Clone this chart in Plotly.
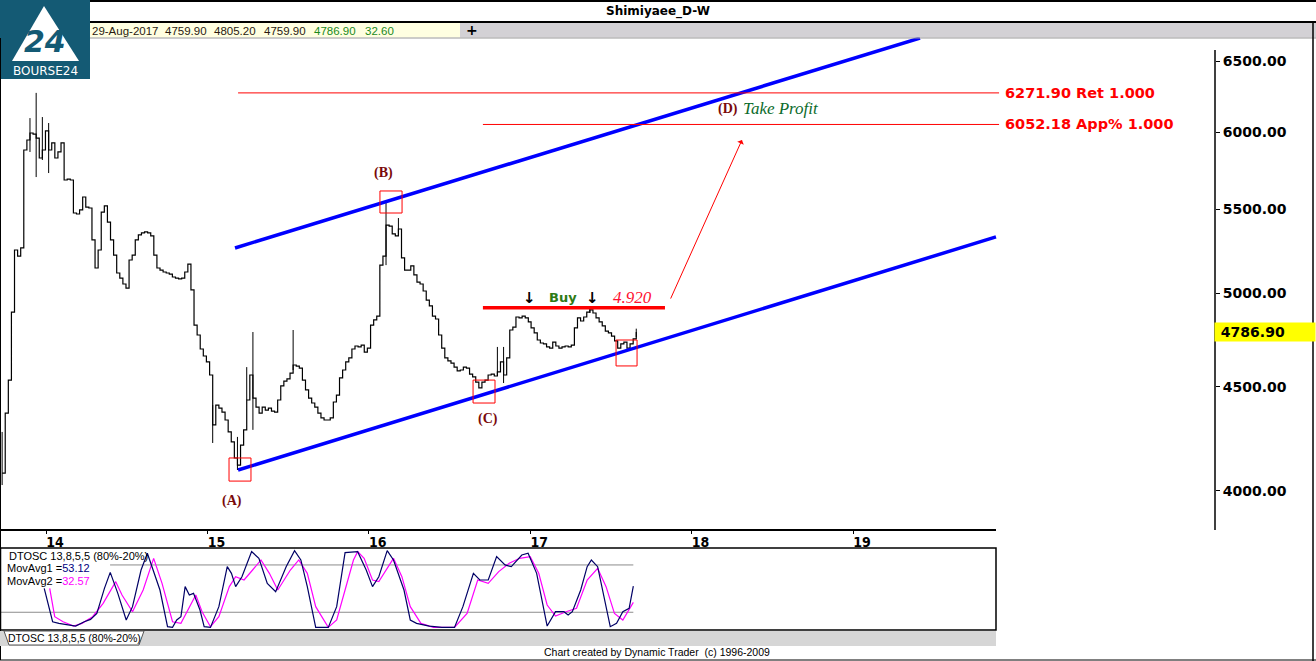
import numpy as np
import pandas as pd
import plotly.graph_objects as go

W, H = 1316, 661

# ---------------- data ----------------
close = [4082, 4368, 4534, 4896, 5252, 5216, 5265, 5880, 5947, 5994,
         5987, 5960, 5827, 5880, 6008, 5880, 5927, 5827, 5867, 5927,
         5684, 5690, 5684, 5476, 5470, 5495, 5576, 5513, 5507, 5312,
         5146, 5252, 5482, 5520, 5420, 5312, 5222, 5117, 5088, 5054,
         5031, 5193, 5222, 5312, 5342, 5354, 5360, 5354, 5336, 5222,
         5146, 5134, 5123, 5117, 5111, 5094, 5088, 5083, 5088, 5123,
         5169, 5020, 4825, 4771, 4696, 4659, 4628, 4560, 4310, 4408,
         4393, 4373, 4334, 4276, 4228, 4152, 4119, 4213, 4286, 4433,
         4560, 4443, 4398, 4368, 4398, 4383, 4393, 4378, 4373, 4433,
         4504, 4529, 4540, 4570, 4612, 4606, 4596, 4534, 4484, 4443,
         4418, 4398, 4368, 4344, 4334, 4334, 4344, 4423, 4458, 4545,
         4586, 4628, 4649, 4696, 4712, 4707, 4717, 4680, 4701, 4825,
         4853, 4874, 5163, 5216, 5402, 5396, 5348, 5336, 5378, 5205,
         5134, 5134, 5158, 5106, 5065, 5054, 5014, 4963, 4930, 4874,
         4858, 4771, 4701, 4649, 4633, 4622, 4601, 4581, 4586, 4601,
         4596, 4565, 4550, 4524, 4494, 4524, 4534, 4560, 4565, 4555,
         4576, 4628, 4560, 4649, 4798, 4814, 4869, 4864, 4874, 4864,
         4842, 4809, 4782, 4744, 4728, 4723, 4707, 4701, 4733, 4712,
         4701, 4707, 4712, 4707, 4717, 4809, 4864, 4847, 4869, 4896,
         4908, 4891, 4864, 4842, 4820, 4792, 4782, 4765, 4739, 4701,
         4723, 4733, 4701, 4723, 4750, 4786.9]
last_date = "2017-08-29"
info_values = ["29-Aug-2017", "4759.90", "4805.20", "4759.90", "4786.90", "32.60"]

spike_idx = [0, 9, 11, 13, 15, 68, 76, 79, 81, 94, 124, 128, 160, 162, 190, 205]
spike_lo = [4027, 5867, 5703, 5814, 5729, 4223, 4096, 4433, 4286, 4586, 5163, 5336, 4560, 4519, 4891, 4759.9]
spike_hi = [4276, 6096, 6272, 6103, 6062, 4408, 4252, 4601, 4787, 4798, 5538, 5445, 4707, 4707, 4920, 4805.2]

fast_t = [13.989, 14.041, 14.080, 14.132, 14.184, 14.237, 14.276, 14.315, 14.362, 14.398,
          14.445, 14.497, 14.536, 14.589, 14.628, 14.706, 14.753, 14.784, 14.810, 14.836,
          14.862, 14.888, 14.914, 14.954, 14.980, 15.019, 15.071, 15.123, 15.149, 15.175,
          15.214, 15.274, 15.319, 15.371, 15.423, 15.488, 15.540, 15.579, 15.619, 15.671,
          15.749, 15.801, 15.853, 15.931, 15.984, 16.023, 16.062, 16.114, 16.153, 16.218,
          16.257, 16.296, 16.375, 16.453, 16.531, 16.583, 16.648, 16.688, 16.740, 16.792,
          16.844, 16.883, 16.948, 16.987, 17.040, 17.105, 17.157, 17.209, 17.235, 17.261,
          17.313, 17.353, 17.379, 17.418, 17.470, 17.496, 17.535, 17.574, 17.613, 17.639]
fast_v = [50.3, 8.0, 5.9, 3.8, 2.5, 8.0, 11.0, 18.6, 50.3, 70.6,
          44.0, 10.2, 27.1, 73.6, 94.8, 48.2, 1.7, 0.8, 10.2, 14.4,
          52.5, 41.9, 44.0, 22.8, 1.7, 0.8, 27.1, 77.8, 69.4, 52.5,
          65.1, 96.9, 88.4, 56.7, 46.1, 77.8, 98.1, 86.3, 52.5, 0.8,
          0.8, 27.1, 95.6, 96.9, 73.6, 52.5, 65.1, 98.1, 86.3, 48.2,
          10.2, 5.9, 2.5, 0.8, 0.8, 27.1, 69.4, 60.9, 60.9, 90.5,
          80.0, 77.8, 92.6, 94.8, 69.4, 2.5, 20.7, 20.7, 16.5, 20.7,
          48.2, 77.8, 86.3, 77.8, 27.1, 1.7, 5.9, 20.7, 25.0, 53.12]
slow_t = [14.023, 14.054, 14.106, 14.171, 14.223, 14.289, 14.354, 14.432, 14.471, 14.536,
          14.602, 14.667, 14.719, 14.784, 14.836, 14.888, 14.928, 14.967, 15.019, 15.071,
          15.136, 15.175, 15.227, 15.280, 15.332, 15.384, 15.436, 15.514, 15.566, 15.619,
          15.671, 15.749, 15.801, 15.853, 15.905, 15.931, 15.971, 16.023, 16.062, 16.153,
          16.205, 16.257, 16.323, 16.401, 16.531, 16.609, 16.675, 16.740, 16.805, 16.870,
          16.935, 17.000, 17.053, 17.105, 17.157, 17.222, 17.287, 17.353, 17.418, 17.470,
          17.522, 17.574, 17.639]
slow_v = [50.3, 14.4, 8.0, 2.5, 5.9, 14.4, 31.3, 58.8, 41.9, 20.7,
          48.2, 88.4, 56.7, 8.0, 5.9, 27.1, 41.9, 20.7, 1.7, 14.4,
          52.5, 65.1, 60.9, 73.6, 86.3, 69.4, 48.2, 73.6, 86.3, 69.4,
          27.1, 0.8, 10.2, 48.2, 86.3, 96.9, 88.4, 60.9, 58.8, 88.4,
          65.1, 27.1, 5.9, 0.8, 0.8, 18.6, 60.9, 56.7, 71.5, 82.1,
          88.4, 90.5, 69.4, 29.2, 15.2, 20.7, 25.0, 60.9, 75.7, 52.5,
          18.6, 10.2, 32.57]
osc_levels = [80, 20]
osc_level_start = [14.397, 13.715]

year_ticks = [14, 15, 16, 17, 18, 19]
price_ticks = [4000, 4500, 5000, 5500, 6000, 6500]

channel_lower_t = [15.190, 19.886]
channel_lower_p = [4096, 5330]
channel_upper_t = [15.171, 19.415]
channel_upper_p = [5264, 6673]
resist_t = [16.707, 17.835]
resist_p = 4920
ret_level, app_level = 6271.90, 6052.18
ret_t = [15.190, 19.905]
app_t = [16.707, 19.905]
box_t0 = [15.134, 16.069, 16.646, 17.532]
box_t1 = [15.270, 16.206, 16.782, 17.662]
box_lo = [4045, 5476, 4418, 4607]
box_hi = [4152, 5614, 4534, 4744]
wave_labels = ["(A)", "(B)", "(C)"]
wave_t = [15.152, 16.094, 16.739]
wave_p = [3955, 5729, 4339]
target_t, target_p = 18.225, 6159
arrow_from = (17.866, 4963)
arrow_to = (18.312, 5947)
buy_t, buy_p = 17.203, 4975
mark_t = [16.993, 17.383]
level_label_t = 17.631

# ---------------- derived ----------------
dates = pd.date_range(end=last_date, periods=len(close), freq="7D")
t = np.asarray((dates.year - 2000) + (dates.dayofyear - 1) / 365.25, dtype=float)

X0 = 13.715
PX_PER_YEAR = 161.4
X1 = X0 + 1215 / PX_PER_YEAR


def px(x):
    return x / W


def py(y):
    return 1 - y / H


ly = np.log10

fig = go.Figure()

# price step line
fig.add_trace(go.Scatter(x=t, y=close, mode="lines", line=dict(color="black", width=1.2, shape="hv"),
                         xaxis="x", yaxis="y", hoverinfo="skip"))
sx, sy = [], []
for i, lo, hi in zip(spike_idx, spike_lo, spike_hi):
    sx += [t[i], t[i], None]
    sy += [lo, hi, None]
fig.add_trace(go.Scatter(x=sx, y=sy, mode="lines", line=dict(color="black", width=1),
                         xaxis="x", yaxis="y", hoverinfo="skip"))

# channel
for ct, cp in [(channel_lower_t, channel_lower_p), (channel_upper_t, channel_upper_p)]:
    fig.add_trace(go.Scatter(x=ct, y=cp, mode="lines", line=dict(color="#0000ff", width=3.5),
                             xaxis="x", yaxis="y", hoverinfo="skip"))
# resistance
fig.add_trace(go.Scatter(x=resist_t, y=[resist_p, resist_p], mode="lines",
                         line=dict(color="#ff0000", width=3.5), xaxis="x", yaxis="y", hoverinfo="skip"))
# target levels
for lt, lv in [(ret_t, ret_level), (app_t, app_level)]:
    fig.add_trace(go.Scatter(x=lt, y=[lv, lv], mode="lines", line=dict(color="#ff0000", width=1),
                             xaxis="x", yaxis="y", hoverinfo="skip"))
# boxes
bx, by = [], []
for a, b, lo, hi in zip(box_t0, box_t1, box_lo, box_hi):
    bx += [a, b, b, a, a, None]
    by += [lo, lo, hi, hi, lo, None]
fig.add_trace(go.Scatter(x=bx, y=by, mode="lines", line=dict(color="#ff0000", width=1),
                         xaxis="x", yaxis="y", hoverinfo="skip"))

# oscillator
for lvl, st in zip(osc_levels, osc_level_start):
    fig.add_trace(go.Scatter(x=[st, fast_t[-1]], y=[lvl, lvl], mode="lines",
                             line=dict(color="#8c8c8c", width=1), xaxis="x2", yaxis="y2", hoverinfo="skip"))
fig.add_trace(go.Scatter(x=slow_t, y=slow_v, mode="lines", line=dict(color="#ff00ff", width=1.2),
                         xaxis="x2", yaxis="y2", hoverinfo="skip"))
fig.add_trace(go.Scatter(x=fast_t, y=fast_v, mode="lines", line=dict(color="#000066", width=1.2),
                         xaxis="x2", yaxis="y2", hoverinfo="skip"))

# ---------------- shapes (chrome) ----------------
shapes = []


def prect(x0, y0, x1, y1, fill=None, color=None, lw=0, layer="above"):
    shapes.append(dict(type="rect", xref="paper", yref="paper", x0=px(x0), x1=px(x1),
                       y0=py(y1), y1=py(y0), fillcolor=fill or "rgba(0,0,0,0)",
                       line=dict(color=color or "rgba(0,0,0,0)", width=lw), layer=layer))


def pline(x0, y0, x1, y1, color="black", lw=1):
    shapes.append(dict(type="line", xref="paper", yref="paper", x0=px(x0), x1=px(x1),
                       y0=py(y0), y1=py(y1), line=dict(color=color, width=lw)))


# title bar & info bar
pline(0, 1, W, 1, lw=2)
pline(0, 22, W, 22, lw=2)
prect(90, 23, 460, 37.5, fill="#ffffe1")
prect(460, 23, W, 37.5, fill="#d3d1d5")
pline(90, 38, W, 38, color="#9a9a9a", lw=1)
# logo
prect(0, 0, 90, 79, fill="#145a74")
shapes.append(dict(type="path", xref="paper", yref="paper",
                   path=f"M {px(12)},{py(61)} L {px(44)},{py(6)} L {px(79)},{py(61)} Z",
                   fillcolor="white", line=dict(color="white", width=0)))
# borders
pline(0.5, 38, 0.5, 660, lw=1)
pline(1313, 22, 1313, 661, lw=1.5)
pline(0, 660, W, 660, lw=1)
# axes lines
pline(0, 530, 996, 530, lw=2)
pline(1215, 50, 1215, 530, lw=1.5)
# oscillator panel
prect(0.5, 548, 996, 630, color="black", lw=1.5)
prect(0, 631, 996, 646, fill="#d6d6d6")
shapes.append(dict(type="path", xref="paper", yref="paper",
                   path=f"M {px(4)},{py(631)} L {px(9)},{py(645)} L {px(139)},{py(645)} L {px(144)},{py(631)} Z",
                   fillcolor="white", line=dict(color="#555555", width=1)))

# ---------------- annotations ----------------
ann = []
SERIF = "Liberation Serif, DejaVu Serif, serif"
SANS = "Liberation Sans, Arial, sans-serif"
BOLD = "DejaVu Sans, Verdana, sans-serif"


def ptext(x, y, text, size=11, color="black", family=SANS, anchor="left", weight="normal", style="normal"):
    ann.append(dict(xref="paper", yref="paper", x=px(x), y=py(y), text=text, showarrow=False,
                    xanchor=anchor, yanchor="middle", borderpad=0,
                    font=dict(size=size, color=color, family=family, weight=weight, style=style)))


def dtext(x, p, text, size=13, color="black", family=SERIF, anchor="center", weight="normal", style="normal"):
    ann.append(dict(xref="x", yref="y", x=x, y=ly(p), text=text, showarrow=False,
                    xanchor=anchor, yanchor="middle",
                    font=dict(size=size, color=color, family=family, weight=weight, style=style)))


ptext(658, 11, "Shimiyaee_D-W", size=12, family=BOLD, anchor="center", weight="bold")
info_x = [91, 164, 213, 263, 313, 364]
info_c = ["#2a1a10", "#2a1a10", "#2a1a10", "#2a1a10", "#1b8a1b", "#1b8a1b"]
for xx, v, c in zip(info_x, info_values, info_c):
    ptext(xx, 30.5, v, size=11.5, color=c)
ptext(472, 30, "<b>+</b>", size=14, anchor="center", family=BOLD)
# logo text
ptext(45, 42, "<i>24</i>", size=30, color="#145a74", family=BOLD, anchor="center", weight="bold")
ptext(45, 71, "BOURSE24", size=12, color="white", family=BOLD, anchor="center")

# wave labels
for lab, wt, wp in zip(wave_labels, wave_t, wave_p):
    dtext(wt, wp, lab, size=14, color="#7a0a0a", weight="bold")
dtext(target_t, target_p, "(D)", size=14, color="#7a0a0a", weight="bold")
dtext(target_t + 0.08, target_p, "Take Profit", size=17, color="#0b6b2b", style="italic", anchor="left")
dtext(buy_t, buy_p, "Buy", size=13, color="#2e7a14", family=BOLD, weight="bold")
for mt in mark_t:
    dtext(mt, buy_p, "↓", size=15, color="black", family=BOLD, weight="bold")
dtext(level_label_t, buy_p, "4.920", size=17, color="#ff1030", style="italic")
# level labels
dtext(19.929, ret_level, f"{ret_level:.2f} Ret 1.000", size=14.5, color="#ff0000", family=BOLD,
      anchor="left", weight="bold")
dtext(19.929, app_level, f"{app_level:.2f} App% 1.000", size=14.5, color="#ff0000", family=BOLD,
      anchor="left", weight="bold")
# projection arrow
ann.append(dict(xref="x", yref="y", axref="x", ayref="y", x=arrow_to[0], y=ly(arrow_to[1]),
                ax=arrow_from[0], ay=ly(arrow_from[1]), showarrow=True, arrowhead=1,
                arrowsize=1.2, arrowwidth=1, arrowcolor="#ff0000", text=""))
# last price box
ann.append(dict(xref="paper", yref="y", x=px(1214), y=ly(close[-1]), xanchor="left", yanchor="middle",
                text=f"&nbsp;{close[-1]:.2f}", showarrow=False, bgcolor="#ffff00", width=98, height=16,
                align="left", borderpad=1,
                font=dict(size=14, family=BOLD, weight="bold", color="black")))
# oscillator labels
ptext(8, 556, "DTOSC 13,8,5,5 (80%-20%)", size=11)
ptext(6, 568, "MovAvg1 =<span style='color:#000080'>53.12</span>", size=11)
ptext(6, 581, "MovAvg2 =<span style='color:#ff00ff'>32.57</span>", size=11)
ptext(74, 638, "DTOSC 13,8,5,5 (80%-20%)", size=10.5, anchor="center")
ptext(657, 652, "Chart created by Dynamic Trader  (c) 1996-2009", size=10.5, anchor="center")

fig.update_layout(
    width=W, height=H, autosize=False,
    margin=dict(l=0, r=0, t=0, b=0),
    paper_bgcolor="white", plot_bgcolor="white",
    showlegend=False,
    xaxis=dict(domain=[0, 1215 / W], range=[X0, X1], showgrid=False, zeroline=False, showline=False,
               tickvals=year_ticks, ticktext=[str(v) for v in year_ticks], ticks="outside", ticklen=3,
               tickcolor="black", ticklabelshift=9, ticklabelstandoff=-4,
               tickfont=dict(family="Liberation Sans Narrow, DejaVu Sans Condensed, sans-serif", size=14,
                             weight="bold", color="black"),
               anchor="y"),
    yaxis=dict(domain=[py(530), py(37)], type="log", range=[3.58292, 3.82483], side="right",
               showgrid=False, zeroline=False, showline=False, tickvals=price_ticks,
               ticktext=[f"{v:.2f}" for v in price_ticks], ticks="outside", ticklen=4, tickcolor="black",
               tickfont=dict(family=BOLD, size=14, weight="bold", color="black"), anchor="x"),
    xaxis2=dict(domain=[0, 1215 / W], range=[X0, X1], visible=False, anchor="y2", matches="x"),
    yaxis2=dict(domain=[py(630), py(548)], range=[-2.5, 101.5], visible=False, anchor="x2"),
    shapes=shapes,
    annotations=ann,
)

fig.write_html("out.html", config={"displayModeBar": False},
               post_script="document.body.style.margin='0px';document.body.style.overflow='hidden';")
